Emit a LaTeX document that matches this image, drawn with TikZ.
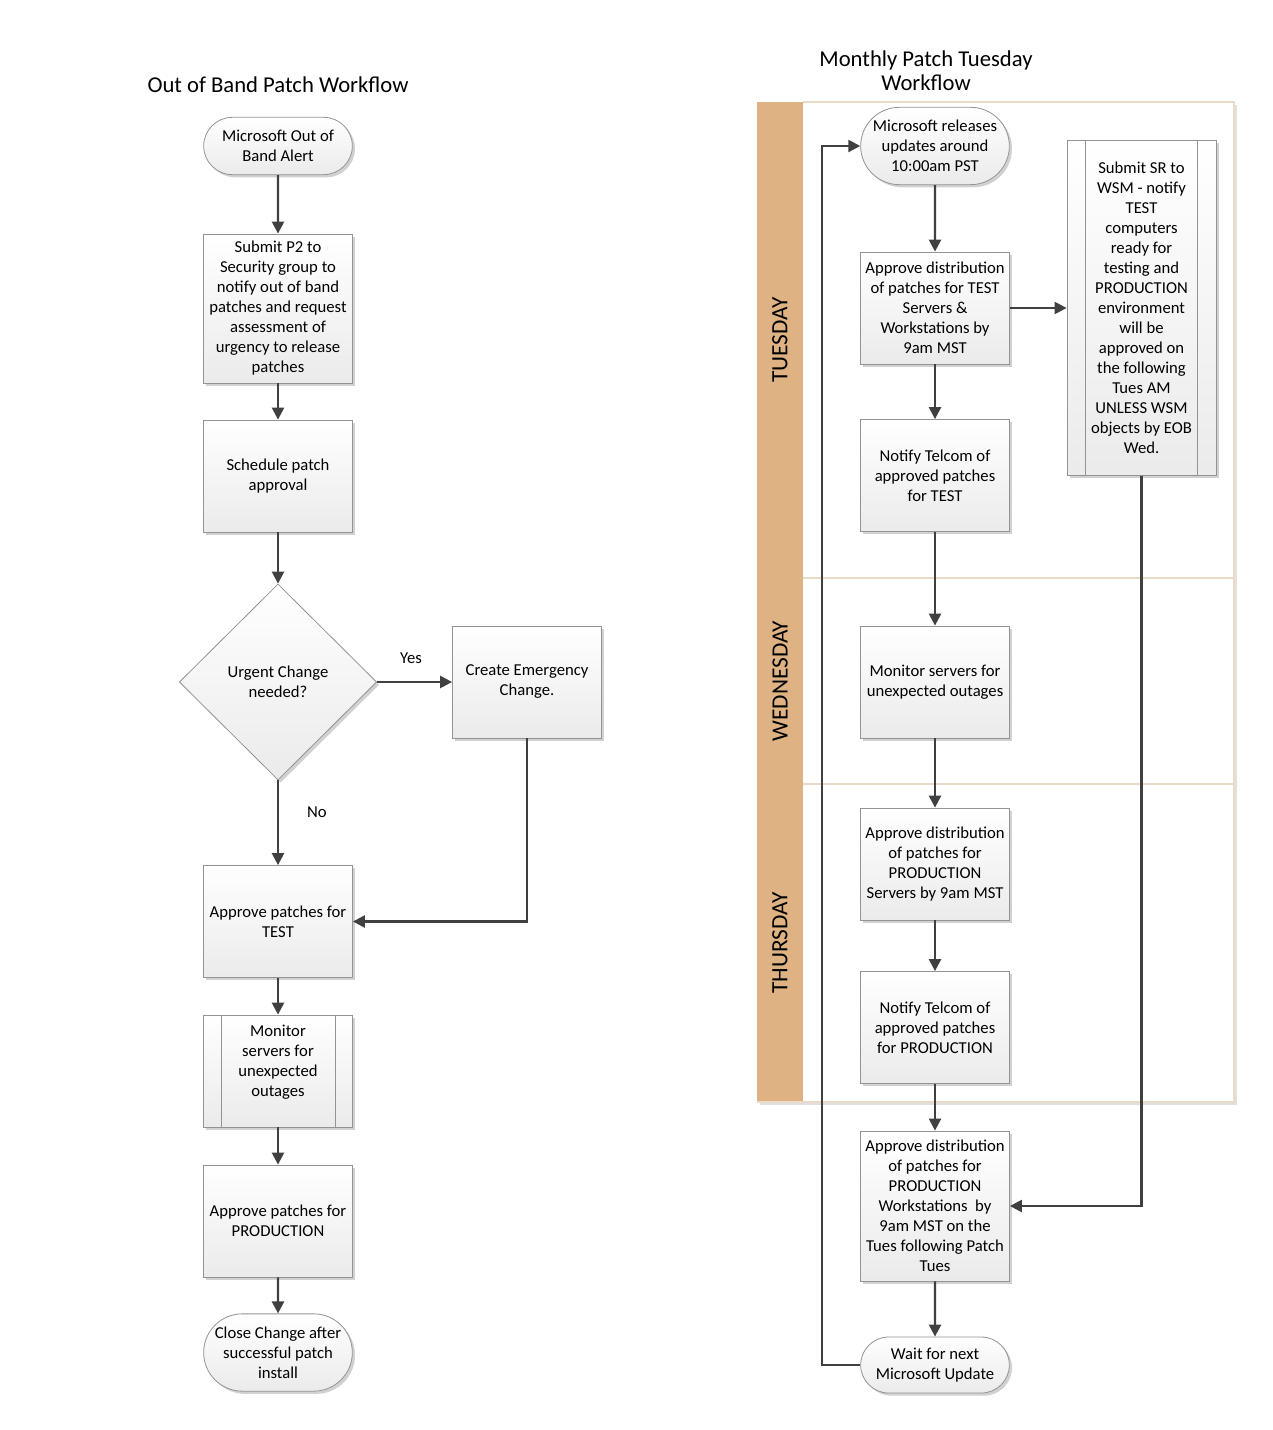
\documentclass[tikz,border=0pt]{standalone}
\usepackage{fontspec}
\setmainfont{Carlito}
\usetikzlibrary{shapes.geometric,shapes.misc,shadows,arrows.meta}
\definecolor{lanetan}{RGB}{222,178,130}
\definecolor{laneline}{RGB}{236,218,200}
\definecolor{flowgray}{RGB}{64,64,64}
\tikzset{every picture/.style={line width=0.75pt}}
\tikzset{
  boxlook/.style={draw=gray!85, line width=0.6pt, top color=white, bottom color=gray!16,
    drop shadow={shadow xshift=2pt, shadow yshift=-2pt, opacity=0.18, fill=black},
    align=center, font=\fontsize{12.5}{15}\selectfont, inner sep=2pt},
  procbox/.style={boxlook, rectangle, minimum width=111.75pt, minimum height=84pt},
  termnode/.style={boxlook, rounded rectangle, minimum width=115.5pt, minimum height=43pt},
  decision/.style={boxlook, diamond, minimum width=148pt, minimum height=147pt, aspect=1},
  flowarrow/.style={draw=flowgray, line width=1.8pt, -{Triangle[length=9pt,width=9pt]}},
  lanetext/.style={rotate=90, font=\fontsize{17.5}{20}\selectfont},
  titletext/.style={align=center, font=\fontsize{17}{18}\selectfont},
  edgetext/.style={font=\fontsize{12.5}{15}\selectfont}
}

\begin{document}
\begin{tikzpicture}[x=0.75pt,y=0.75pt,yscale=-1,xscale=1]
\useasboundingbox (0,0) rectangle (1272,1430);

% Swimlanes
\fill[white, drop shadow={shadow xshift=2pt, shadow yshift=-2pt, opacity=0.12, fill=black}] (757,102) rectangle (1234,1102);
\fill[lanetan] (757,102) rectangle (803,1102);
\draw[laneline, line width=1pt] (803,102) -- (1234,102) -- (1234,1102) -- (757,1102);
\draw[laneline, line width=1pt] (803,578) -- (1234,578);
\draw[laneline, line width=1pt] (803,784) -- (1234,784);
\node[lanetext] (tue) at (780,340) {TUESDAY};
\node[lanetext] (wed) at (780,681) {WEDNESDAY};
\node[lanetext] (thu) at (780,943) {THURSDAY};

% Titles
\node[titletext] (oobtitle) at (278,85) {Out of Band Patch Workflow};
\node[titletext] (pttitle) at (926,71) {Monthly Patch Tuesday\\Workflow};

% Out of band workflow
\node[termnode, minimum height=43pt] (oobalert) at (278,146) {Microsoft Out of\\Band Alert};
\node[procbox, minimum height=111.75pt] (submitp2) at (278,308.5) {Submit P2 to\\Security group to\\notify out of band\\patches and request\\assessment of\\urgency to release\\patches};
\node[procbox] (schedule) at (278,476) {Schedule patch\\approval};
\node[decision] (urgent) at (278,682) {Urgent Change\\needed?};
\node[procbox] (emerg) at (527,682) {Create Emergency\\Change.};
\node[procbox] (apptest) at (278,921.5) {Approve patches for\\TEST};
\node[procbox] (monitor) at (278,1071) {Monitor\\servers for\\unexpected\\outages\\[0pt]};
\node[procbox] (appprod) at (278,1221) {Approve patches for\\PRODUCTION};
\node[termnode, minimum height=58pt] (closechg) at (278,1352.5) {Close Change after\\successful patch\\install};

\draw[gray!85, line width=0.6pt] ([xshift=13.5pt]monitor.north west) -- ([xshift=13.5pt]monitor.south west);
\draw[gray!85, line width=0.6pt] ([xshift=-13.5pt]monitor.north east) -- ([xshift=-13.5pt]monitor.south east);

\draw[flowarrow] (oobalert) -- (submitp2);
\draw[flowarrow] (submitp2) -- (schedule);
\draw[flowarrow] (schedule) -- (urgent);
\draw[flowarrow] (urgent) -- (emerg);
\draw[flowarrow] (urgent) -- (apptest);
\draw[flowarrow] (emerg.south) |- (apptest.east);
\draw[flowarrow] (apptest) -- (monitor);
\draw[flowarrow] (monitor) -- (appprod);
\draw[flowarrow] (appprod) -- (closechg);
\node[edgetext] (yeslbl) at (411,658) {Yes};
\node[edgetext] (nolbl) at (317,812) {No};

% Patch Tuesday workflow
\node[termnode, minimum height=58pt] (msrelease) at (935,146) {Microsoft releases\\updates around\\10:00am PST};
\node[procbox] (apptestsrv) at (935,308) {Approve distribution\\of patches for TEST\\Servers \&\\Workstations by\\9am MST};
\node[procbox] (telcomtest) at (935,475.5) {Notify Telcom of\\approved patches\\for TEST};
\node[procbox] (monitorsrv) at (935,682) {Monitor servers for\\unexpected outages};
\node[procbox] (appprodsrv) at (935,864) {Approve distribution\\of patches for\\PRODUCTION\\Servers by 9am MST};
\node[procbox] (telcomprod) at (935,1027.5) {Notify Telcom of\\approved patches\\for PRODUCTION};
\node[procbox, minimum height=112.5pt] (appprodws) at (935,1206) {Approve distribution\\of patches for\\PRODUCTION\\Workstations~~by\\9am MST on the\\Tues following Patch\\Tues};
\node[termnode, minimum height=42pt] (waitnext) at (935,1365) {Wait for next\\Microsoft Update};
\node[procbox, minimum height=251.25pt] (submitsr) at (1141.5,308) {Submit SR to\\WSM - notify\\TEST\\computers\\ready for\\testing and\\PRODUCTION\\environment\\will be\\approved on\\the following\\Tues AM\\UNLESS WSM\\objects by EOB\\Wed.};

\draw[gray!85, line width=0.6pt] ([xshift=14pt]submitsr.north west) -- ([xshift=14pt]submitsr.south west);
\draw[gray!85, line width=0.6pt] ([xshift=-14pt]submitsr.north east) -- ([xshift=-14pt]submitsr.south east);

\draw[flowarrow] (msrelease) -- (apptestsrv);
\draw[flowarrow] (apptestsrv) -- (telcomtest);
\draw[flowarrow] (apptestsrv) -- (submitsr);
\draw[flowarrow] (telcomtest) -- (monitorsrv);
\draw[flowarrow] (monitorsrv) -- (appprodsrv);
\draw[flowarrow] (appprodsrv) -- (telcomprod);
\draw[flowarrow] (telcomprod) -- (appprodws);
\draw[flowarrow] (submitsr.south) |- (appprodws.east);
\draw[flowarrow] (appprodws) -- (waitnext);
\draw[flowarrow] (waitnext.west) -- ++(-38,0) |- (msrelease.west);

\end{tikzpicture}
\end{document}
